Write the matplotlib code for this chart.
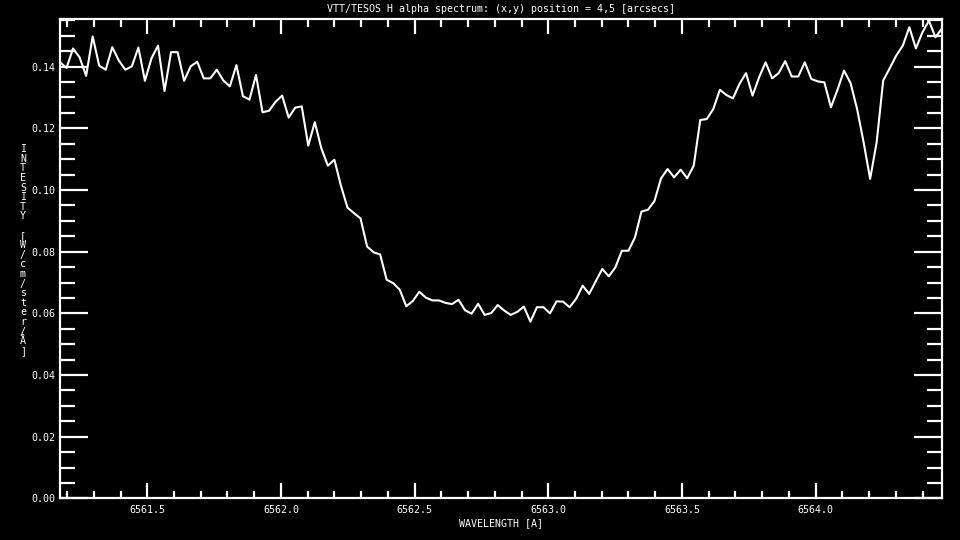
import numpy as np
import matplotlib
matplotlib.use("Agg")
import matplotlib.pyplot as plt
from matplotlib.ticker import MultipleLocator, FormatStrFormatter

# --- spectrum data ---
wl_start = 6561.1736   # first sample [A]
wl_step = 0.024438     # dispersion per pixel [A]

intensity = [
    0.1414, 0.1396, 0.1459, 0.1430, 0.1370, 0.1498, 0.1403, 0.1390, 0.1463, 0.1420,
    0.1390, 0.1401, 0.1462, 0.1354, 0.1427, 0.1468, 0.1321, 0.1447, 0.1447, 0.1354,
    0.1401, 0.1416, 0.1362, 0.1362, 0.1390, 0.1355, 0.1336, 0.1405, 0.1304, 0.1293,
    0.1373, 0.1252, 0.1257, 0.1286, 0.1306, 0.1235, 0.1267, 0.1271, 0.1144, 0.1220,
    0.1135, 0.1079, 0.1098, 0.1014, 0.0943, 0.0925, 0.0908, 0.0817, 0.0798, 0.0791,
    0.0709, 0.0698, 0.0677, 0.0623, 0.0640, 0.0670, 0.0651, 0.0642, 0.0642, 0.0634,
    0.0630, 0.0644, 0.0610, 0.0599, 0.0631, 0.0595, 0.0601, 0.0627,
    0.0609, 0.0595, 0.0605, 0.0622, 0.0573, 0.0620, 0.0620, 0.0600, 0.0639, 0.0638,
    0.0620, 0.0647, 0.0690, 0.0663, 0.0704, 0.0744, 0.0720, 0.0749, 0.0803, 0.0803,
    0.0846, 0.0930, 0.0936, 0.0965, 0.1038, 0.1068, 0.1041, 0.1066, 0.1038, 0.1079,
    0.1227, 0.1230, 0.1263, 0.1325, 0.1308, 0.1297, 0.1344, 0.1379, 0.1306, 0.1365,
    0.1414, 0.1362, 0.1379, 0.1418, 0.1368, 0.1368, 0.1414, 0.1360, 0.1352, 0.1349,
    0.1268, 0.1325, 0.1387, 0.1347, 0.1263, 0.1155, 0.1036, 0.1155, 0.1355, 0.1395,
    0.1436, 0.1468, 0.1528, 0.1459, 0.1511, 0.1549, 0.1495, 0.1524,
]
wavelength = wl_start + wl_step * np.arange(len(intensity))

title = "VTT/TESOS H alpha spectrum: (x,y) position = 4,5 [arcsecs]"
xlabel = "WAVELENGTH [A]"
ylabel = "INTESITY [W/cm/ster/Å]"

plt.rcParams['font.family'] = ['DejaVu Sans Mono']
plt.rcParams['text.color'] = 'white'

fig = plt.figure(figsize=(9.6, 5.4), dpi=100, facecolor='black')
ax = fig.add_axes([0.0625, 0.077, 0.91875, 0.8887])
ax.set_facecolor('black')

ax.plot(wavelength, intensity, color='white', lw=1.5)
ax.set_xlim(wavelength[0], wavelength[-1])
ax.set_ylim(0, 0.1556)

# --- IDL-like axes ---
for sp in ax.spines.values():
    sp.set_color('white')
    sp.set_linewidth(1.6)

ax.xaxis.set_major_locator(MultipleLocator(0.5))
ax.xaxis.set_minor_locator(MultipleLocator(0.1))
ax.yaxis.set_major_locator(MultipleLocator(0.02))
ax.yaxis.set_minor_locator(MultipleLocator(0.005))
ax.xaxis.set_major_formatter(FormatStrFormatter('%.1f'))
ax.yaxis.set_major_formatter(FormatStrFormatter('%.2f'))

ax.tick_params(which='both', direction='in', colors='white', top=True, right=True,
               labelsize=7.2, width=1.6)
ax.tick_params(axis='y', which='major', length=20.5, pad=3)
ax.tick_params(axis='y', which='minor', length=10.8)
ax.tick_params(axis='x', which='major', length=10.8, pad=4.5)
ax.tick_params(axis='x', which='minor', length=5.4)

ax.set_title(title, color='white', fontsize=7.2, pad=4.5)
ax.set_xlabel(xlabel, color='white', fontsize=7.2, labelpad=2.5)
fig.text(23 / 960, 1 - 250 / 540, '\n'.join(ylabel), ha='center', va='center',
         fontsize=7.2, color='white', linespacing=0.95)

fig.savefig('out.png', dpi=100, facecolor='black')
